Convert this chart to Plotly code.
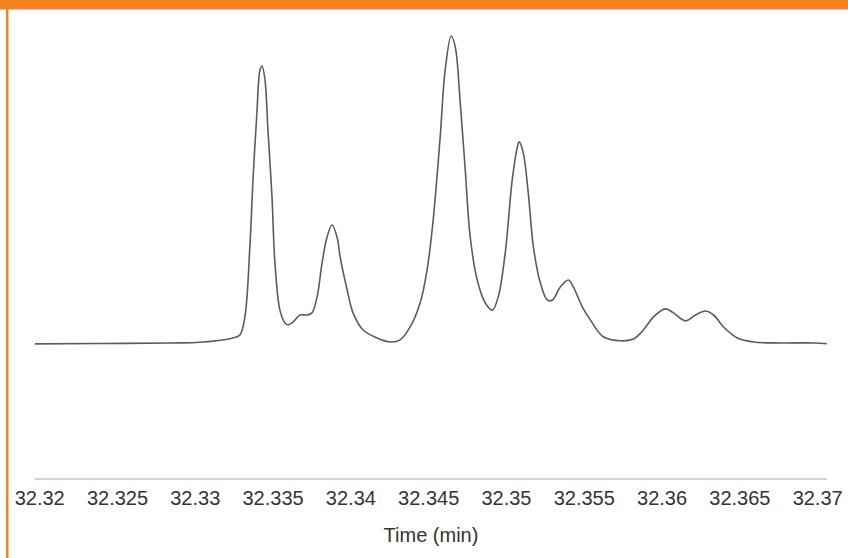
import plotly.graph_objects as go

# Chromatogram trace: retention time (min) and relative intensity (%)
time_min = [
    32.31968, 32.32386, 32.32837, 32.33030, 32.33242, 32.33287, 32.33319, 32.33351,
    32.33371, 32.33396, 32.33416, 32.33429, 32.33448, 32.33467, 32.33493, 32.33512,
    32.33544, 32.33577, 32.33596, 32.33628, 32.33673, 32.33718, 32.33750, 32.33783,
    32.33815, 32.33847, 32.33879, 32.33911, 32.33931, 32.33976, 32.34014, 32.34079,
    32.34169, 32.34252, 32.34317, 32.34381, 32.34445, 32.34490, 32.34529, 32.34574,
    32.34606, 32.34645, 32.34671, 32.34703, 32.34735, 32.34767, 32.34812, 32.34864,
    32.34909, 32.34947, 32.34992, 32.35037, 32.35070, 32.35082, 32.35108, 32.35140,
    32.35173, 32.35218, 32.35263, 32.35295, 32.35346, 32.35398, 32.35430, 32.35488,
    32.35539, 32.35623, 32.35732, 32.35816, 32.35880, 32.35945, 32.36022, 32.36073,
    32.36151, 32.36215, 32.36279, 32.36331, 32.36395, 32.36485, 32.36588, 32.36762,
    32.36974, 32.37064,
]
intensity = [
    -0.3, -0.2, 0.0, 0.2, 1.6, 2.6, 8.5, 31.3,
    53.1, 74.9, 88.9, 90.2, 85.7, 69.4, 47.6, 26.1,
    10.7, 6.5, 5.9, 6.8, 9.1, 9.1, 9.8, 15.0,
    26.1, 34.5, 38.4, 34.5, 28.0, 17.3, 9.8, 4.2,
    1.6, 0.3, 1.0, 5.2, 13.0, 23.8, 40.1, 67.1,
    88.9, 100.0, 96.4, 78.2, 56.4, 34.5, 20.5, 13.0,
    10.7, 15.0, 29.3, 53.1, 63.8, 65.5, 61.9, 48.9,
    31.3, 19.5, 14.0, 14.0, 18.2, 20.5, 18.2, 11.7,
    7.5, 2.0, 0.7, 1.3, 4.2, 8.5, 11.1, 9.8,
    7.2, 9.1, 10.4, 9.1, 5.2, 1.6, 0.3, 0.0,
    0.0, -0.3,
]

tick_vals = [32.32, 32.325, 32.33, 32.335, 32.34, 32.345, 32.35, 32.355, 32.36, 32.365, 32.37]
tick_text = ["32.32", "32.325", "32.33", "32.335", "32.34", "32.345", "32.35",
             "32.355", "32.36", "32.365", "32.37"]

ORANGE = "#F58220"
FONT = "Liberation Sans, Arial, sans-serif"

fig = go.Figure()
fig.add_trace(go.Scatter(
    x=time_min, y=intensity, mode="lines",
    line=dict(color="#5c5c5c", width=1.6, shape="spline", smoothing=1.0),
    hoverinfo="skip", showlegend=False,
))

fig.update_layout(
    width=848, height=558,
    margin=dict(l=35, r=21, t=20, b=80, autoexpand=False),
    paper_bgcolor="white", plot_bgcolor="white",
    font=dict(family=FONT, color="#333333"),
    xaxis=dict(
        range=[32.3197, 32.3706],
        automargin=False,
        tickmode="array", tickvals=tick_vals, ticktext=tick_text,
        tickfont=dict(size=20, color="#333333"),
        showgrid=False, zeroline=False,
        showline=True, linecolor="#d4d4d4", linewidth=2,
        ticks="", ticklabelstandoff=1,
        title=dict(text="Time (min)", font=dict(size=20, color="#333333"), standoff=20),
    ),
    yaxis=dict(
        range=[-44, 105.2],
        automargin=False,
        showgrid=False, zeroline=False, showline=False,
        showticklabels=False, ticks="",
    ),
    shapes=[
        # header band across the top
        dict(type="rect", xref="paper", yref="paper",
             x0=-35 / 792, x1=(848 - 35) / 792,
             y0=1 + 10.5 / 458, y1=1 + 20 / 458,
             fillcolor=ORANGE, line=dict(width=0), layer="above"),
        # left rule
        dict(type="rect", xref="paper", yref="paper",
             x0=-29 / 792, x1=-26.5 / 792,
             y0=-80 / 458, y1=1 + 11 / 458,
             fillcolor=ORANGE, line=dict(width=0), layer="above"),
    ],
)

fig.write_html("out.html")
